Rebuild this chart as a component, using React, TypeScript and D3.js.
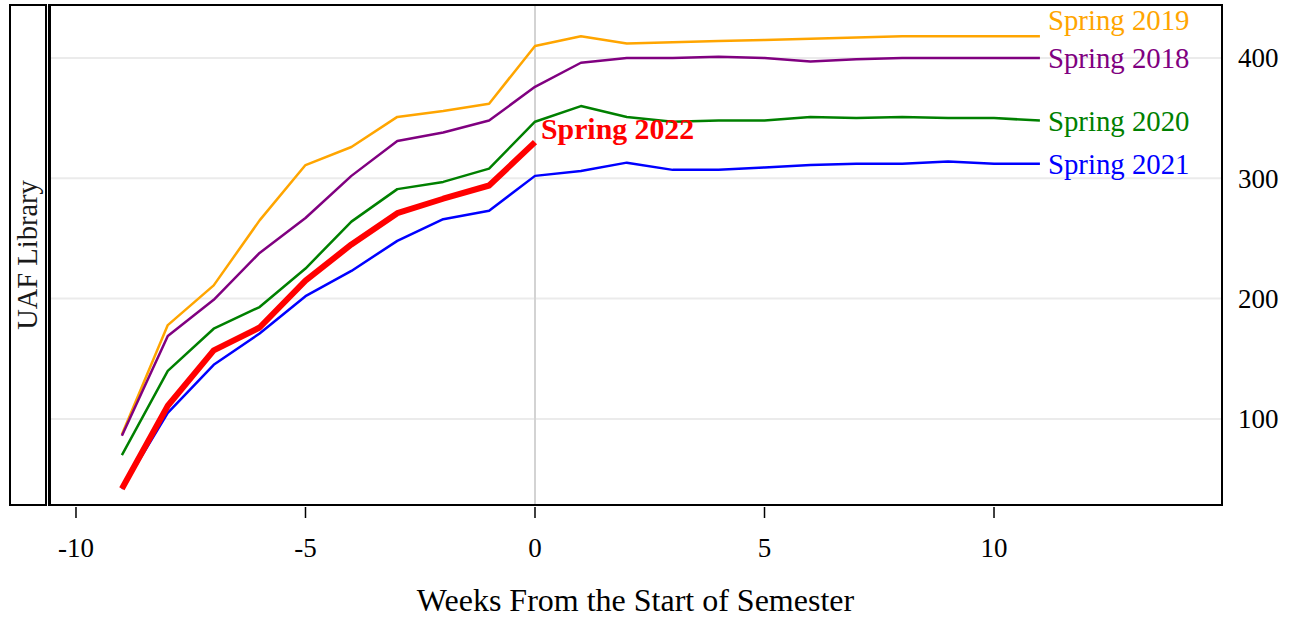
import React from "react";
import * as d3 from "d3";

const weeksFull = [-9, -8, -7, -6, -5, -4, -3, -2, -1, 0, 1, 2, 3, 4, 5, 6, 7, 8, 9, 10, 11];
const weeks2022 = [-9, -8, -7, -6, -5, -4, -3, -2, -1, 0];

const spring2019 = [87, 178, 211, 265, 311, 326, 351, 356, 362, 410, 418, 412, 413, 414, 415, 416, 417, 418, 418, 418, 418];
const spring2018 = [86, 169, 199, 238, 267, 302, 331, 338, 348, 376, 396, 400, 400, 401, 400, 397, 399, 400, 400, 400, 400];
const spring2020 = [70, 140, 175, 193, 225, 264, 291, 297, 308, 347, 360, 351, 347, 348, 348, 351, 350, 351, 350, 350, 348];
const spring2021 = [42, 105, 145, 171, 202, 223, 248, 266, 273, 302, 306, 313, 307, 307, 309, 311, 312, 312, 314, 312, 312];
const spring2022 = [42, 111, 157, 176, 215, 245, 271, 283, 294, 330];

const seriesNames = ["Spring 2019", "Spring 2018", "Spring 2020", "Spring 2021"];
const seriesValues = [spring2019, spring2018, spring2020, spring2021];
const seriesColors = ["#FFA500", "#800080", "#008000", "#0000FF"];

const xTicks = [-10, -5, 0, 5, 10];
const yTicks = [100, 200, 300, 400];

const stripLabel = "UAF Library";
const xTitle = "Weeks From the Start of Semester";
const currentName = "Spring 2022";
const currentColor = "#FF0000";

const W = 1296;
const H = 619;
const panel = { left: 49, right: 1222, top: 5, bottom: 505 };
const strip = { left: 10, right: 46 };
const font = "'Liberation Serif', 'Times New Roman', serif";

export default function App() {
  const x = d3.scaleLinear().domain([-10.588, 14.967]).range([panel.left, panel.right]);
  const y = d3.scaleLinear().domain([28.5, 444]).range([panel.bottom, panel.top]);

  const line = d3
    .line<[number, number]>()
    .x((d) => x(d[0]))
    .y((d) => y(d[1]));

  // label positions with simple repel (push upper labels up)
  const labelGap = 38;
  const labels = seriesNames.map((n, i) => ({
    name: n,
    color: seriesColors[i],
    yPos: y(seriesValues[i][seriesValues[i].length - 1]),
  }));
  const sorted = [...labels].sort((a, b) => b.yPos - a.yPos);
  for (let i = 1; i < sorted.length; i++) {
    if (sorted[i - 1].yPos - sorted[i].yPos < labelGap) {
      sorted[i].yPos = sorted[i - 1].yPos - labelGap;
    }
  }
  const lastWeek = weeksFull[weeksFull.length - 1];
  const lastCur = spring2022[spring2022.length - 1];
  const lastCurWeek = weeks2022[weeks2022.length - 1];

  return (
    <svg width={W} height={H} style={{ display: "block", position: "absolute", left: 0, top: 0 }} fontFamily={font}>
      <rect x={0} y={0} width={W} height={H} fill="#ffffff" />
      {/* strip */}
      <rect
        x={strip.left}
        y={panel.top}
        width={strip.right - strip.left}
        height={panel.bottom - panel.top}
        fill="#ffffff"
        stroke="#000"
        strokeWidth={2}
      />
      <text
        transform={`translate(${(strip.left + strip.right) / 2 + 9},${(panel.top + panel.bottom) / 2}) rotate(-90)`}
        textAnchor="middle"
        fontSize={28.5}
        fill="#1a1a1a"
      >
        {stripLabel}
      </text>
      {/* gridlines */}
      {yTicks.map((t) => (
        <line key={t} x1={panel.left} x2={panel.right} y1={y(t)} y2={y(t)} stroke="#ebebeb" strokeWidth={2} />
      ))}
      <line x1={x(0)} x2={x(0)} y1={panel.top} y2={panel.bottom} stroke="#d3d3d3" strokeWidth={2} />
      {/* series */}
      {seriesValues.map((vals, i) => (
        <path
          key={seriesNames[i]}
          d={line(weeksFull.map((w, j) => [w, vals[j]]) as [number, number][]) || ""}
          fill="none"
          stroke={seriesColors[i]}
          strokeWidth={2.5}
          strokeLinejoin="round"
        />
      ))}
      <path
        d={line(weeks2022.map((w, j) => [w, spring2022[j]]) as [number, number][]) || ""}
        fill="none"
        stroke={currentColor}
        strokeWidth={6}
        strokeLinejoin="round"
      />
      {/* labels */}
      {labels.map((l) => (
        <text key={l.name} x={x(lastWeek) + 8} y={l.yPos} dy="0.35em" fontSize={28.8} fill={l.color}>
          {l.name}
        </text>
      ))}
      <text
        x={x(lastCurWeek) + 6}
        y={y(lastCur) - 14}
        dy="0.35em"
        fontSize={29.8}
        fontWeight="bold"
        fill={currentColor}
      >
        {currentName}
      </text>
      {/* panel border */}
      <rect
        x={panel.left}
        y={panel.top}
        width={panel.right - panel.left}
        height={panel.bottom - panel.top}
        fill="none"
        stroke="#000"
        strokeWidth={2}
      />
      <line x1={panel.left + 0.5} x2={panel.left + 0.5} y1={panel.top} y2={panel.bottom} stroke="#000" strokeWidth={3} />
      {/* x axis */}
      {xTicks.map((t) => (
        <g key={t}>
          <line x1={x(t)} x2={x(t)} y1={507} y2={518} stroke="#000" strokeWidth={1.5} />
          <text x={x(t)} y={548} dy="0.35em" textAnchor="middle" fontSize={27} fill="#000">
            {t}
          </text>
        </g>
      ))}
      <text x={(panel.left + panel.right) / 2} y={600} dy="0.35em" textAnchor="middle" fontSize={32} fill="#000">
        {xTitle}
      </text>
      {/* y axis right */}
      {yTicks.map((t) => (
        <text key={t} x={1238} y={y(t)} dy="0.35em" textAnchor="start" fontSize={27} fill="#000">
          {t}
        </text>
      ))}
    </svg>
  );
}
